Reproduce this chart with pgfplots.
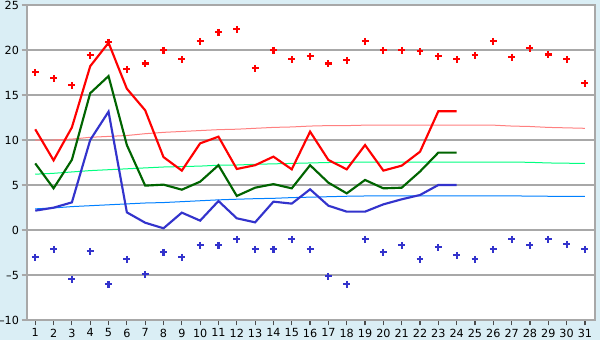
\documentclass[border=0pt]{standalone}
\usepackage{pgfplots}
\pgfplotsset{compat=1.18}
\usepackage{fontspec}
\setmainfont{DejaVu Sans}
\definecolor{bgc}{HTML}{DAEEF5}
\definecolor{gridc}{HTML}{A8A8A8}
\definecolor{maxc}{HTML}{FF0000}
\definecolor{meanc}{HTML}{006400}
\definecolor{minc}{HTML}{3333CC}
\definecolor{tmax}{HTML}{FF8080}
\definecolor{tmean}{HTML}{00FF80}
\definecolor{tmin}{HTML}{0080FF}
\begin{document}
\begin{tikzpicture}
\fill[bgc] (-20.25pt,-15pt) rectangle (429.75pt,240pt);
\begin{axis}[
  at={(0,0)}, anchor=south west,
  scale only axis, width=426pt, height=236.25pt,
  xmin=0.55, xmax=31.55, ymin=-10, ymax=25,
  axis background/.style={fill=white},
  axis line style={gridc, line width=0.9pt},
  xtick={1,...,31}, ytick={-10,-5,...,25},
  xtick pos=bottom, ytick pos=left,
  yticklabels={–10,–5,0,5,10,15,20,25},
  ymajorgrids, grid style={gridc, line width=0.9pt},
  tick align=outside, major tick length=4pt,
  tick style={gridc, line width=0.9pt},
  xtick style={black!70},
  ticklabel style={font=\fontsize{8.4}{9}\selectfont, black},
  yticklabel style={xshift=1.5pt},
  /pgf/number format/assume math mode=true,
  xticklabel style={yshift=1pt},
  clip=true,
]
% trend lines
\addplot[tmax, line width=0.75pt] coordinates {(1,10.0)(2,10.0)(3,10.1)(4,10.3)(5,10.4)(6,10.5)(7,10.7)(8,10.85)(9,10.95)(10,11.05)(11,11.15)(12,11.2)(13,11.3)(14,11.4)(15,11.45)(16,11.55)(17,11.6)(18,11.6)(19,11.65)(20,11.65)(21,11.65)(22,11.65)(23,11.65)(24,11.65)(25,11.65)(26,11.65)(27,11.55)(28,11.5)(29,11.4)(30,11.35)(31,11.3)};
\addplot[tmean, line width=0.75pt] coordinates {(1,6.2)(2,6.3)(3,6.45)(4,6.6)(5,6.7)(6,6.8)(7,6.9)(8,7.0)(9,7.05)(10,7.1)(11,7.2)(12,7.22)(13,7.3)(14,7.35)(15,7.4)(16,7.45)(17,7.5)(18,7.52)(19,7.55)(20,7.55)(21,7.55)(22,7.55)(23,7.55)(24,7.55)(25,7.55)(26,7.55)(27,7.55)(28,7.52)(29,7.45)(30,7.42)(31,7.4)};
\addplot[tmin, line width=0.75pt] coordinates {(1,2.35)(2,2.45)(3,2.6)(4,2.7)(5,2.8)(6,2.9)(7,3.0)(8,3.05)(9,3.15)(10,3.25)(11,3.35)(12,3.42)(13,3.48)(14,3.52)(15,3.6)(16,3.65)(17,3.7)(18,3.75)(19,3.78)(20,3.8)(21,3.8)(22,3.8)(23,3.8)(24,3.8)(25,3.8)(26,3.8)(27,3.8)(28,3.76)(29,3.75)(30,3.74)(31,3.74)};
% daily lines
\addplot[minc, line width=1.6pt] coordinates {(1,2.15)(2,2.48)(3,3.07)(4,10.0)(5,13.15)(6,1.96)(7,0.81)(8,0.19)(9,1.93)(10,1.04)(11,3.22)(12,1.3)(13,0.85)(14,3.15)(15,2.93)(16,4.52)(17,2.7)(18,2.04)(19,2.04)(20,2.85)(21,3.41)(22,3.89)(23,5.0)(24,5.0)};
\addplot[meanc, line width=1.6pt] coordinates {(1,7.4)(2,4.63)(3,7.8)(4,15.2)(5,17.1)(6,9.44)(7,4.93)(8,5.04)(9,4.48)(10,5.37)(11,7.2)(12,3.78)(13,4.7)(14,5.1)(15,4.63)(16,7.2)(17,5.26)(18,4.07)(19,5.56)(20,4.63)(21,4.7)(22,6.5)(23,8.6)(24,8.6)};
\addplot[maxc, line width=1.6pt] coordinates {(1,11.19)(2,7.74)(3,11.4)(4,18.2)(5,20.8)(6,15.7)(7,13.3)(8,8.1)(9,6.6)(10,9.63)(11,10.37)(12,6.78)(13,7.2)(14,8.15)(15,6.74)(16,10.93)(17,7.78)(18,6.74)(19,9.44)(20,6.6)(21,7.15)(22,8.7)(23,13.2)(24,13.2)};
% extremes
\addplot[only marks, maxc, mark=+, mark size=2.6pt, mark options={line width=1.6pt}] coordinates {(1,17.52)(2,16.85)(3,16.07)(4,19.4)(5,20.85)(6,17.85)(7,18.5)(8,19.96)(9,18.96)(10,20.96)(11,21.96)(12,22.3)(13,17.96)(14,19.96)(15,18.96)(16,19.3)(17,18.5)(18,18.85)(19,20.96)(20,19.96)(21,19.96)(22,19.85)(23,19.3)(24,18.96)(25,19.4)(26,20.96)(27,19.2)(28,20.2)(29,19.5)(30,18.96)(31,16.3)};
\addplot[only marks, minc, mark=+, mark size=2.6pt, mark options={line width=1.6pt}] coordinates {(1,-3.04)(2,-2.15)(3,-5.48)(4,-2.37)(5,-6.04)(6,-3.26)(7,-4.93)(8,-2.48)(9,-3.04)(10,-1.7)(11,-1.7)(12,-1.04)(13,-2.15)(14,-2.15)(15,-1.04)(16,-2.15)(17,-5.15)(18,-6.04)(19,-1.04)(20,-2.48)(21,-1.7)(22,-3.26)(23,-1.93)(24,-2.81)(25,-3.26)(26,-2.15)(27,-1.04)(28,-1.7)(29,-1.04)(30,-1.59)(31,-2.15)};
\end{axis}
\pgfresetboundingbox
\useasboundingbox (-20.25pt,-15pt) rectangle (429.75pt,240pt);
\end{tikzpicture}
\end{document}
